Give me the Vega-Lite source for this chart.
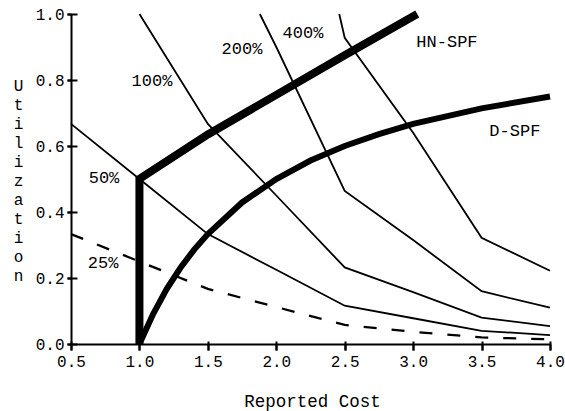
{
  "$schema": "https://vega.github.io/schema/vega-lite/v6.json",
  "width": 479,
  "height": 330,
  "autosize": {"type": "none"},
  "padding": {"left": 71, "top": 14, "right": 15, "bottom": 67},
  "background": "white",
  "config": {
    "view": {"stroke": null},
    "font": "Liberation Mono",
    "axis": {"grid": false, "domainColor": "black", "tickColor": "black", "labelColor": "black", "titleColor": "black", "labelFont": "Liberation Mono", "titleFont": "Liberation Mono", "titleFontWeight": "normal"}
  },
  "datasets": {
    "curves": [
      {"s": "25%", "x": 0.5, "y": 0.333, "i": 0},
      {"s": "25%", "x": 1.0, "y": 0.25, "i": 1},
      {"s": "25%", "x": 1.5, "y": 0.167, "i": 2},
      {"s": "25%", "x": 2.0, "y": 0.112, "i": 3},
      {"s": "25%", "x": 2.5, "y": 0.058, "i": 4},
      {"s": "25%", "x": 3.0, "y": 0.037, "i": 5},
      {"s": "25%", "x": 3.5, "y": 0.02, "i": 6},
      {"s": "25%", "x": 4.0, "y": 0.014, "i": 7},
      {"s": "50%", "x": 0.5, "y": 0.667, "i": 0},
      {"s": "50%", "x": 1.0, "y": 0.5, "i": 1},
      {"s": "50%", "x": 1.5, "y": 0.333, "i": 2},
      {"s": "50%", "x": 2.0, "y": 0.225, "i": 3},
      {"s": "50%", "x": 2.5, "y": 0.116, "i": 4},
      {"s": "50%", "x": 3.0, "y": 0.078, "i": 5},
      {"s": "50%", "x": 3.5, "y": 0.04, "i": 6},
      {"s": "50%", "x": 4.0, "y": 0.027, "i": 7},
      {"s": "100%", "x": 1.0, "y": 1.0, "i": 0},
      {"s": "100%", "x": 1.5, "y": 0.667, "i": 1},
      {"s": "100%", "x": 2.0, "y": 0.45, "i": 2},
      {"s": "100%", "x": 2.5, "y": 0.232, "i": 3},
      {"s": "100%", "x": 3.0, "y": 0.157, "i": 4},
      {"s": "100%", "x": 3.5, "y": 0.08, "i": 5},
      {"s": "100%", "x": 4.0, "y": 0.054, "i": 6},
      {"s": "200%", "x": 1.88, "y": 1.0, "i": 0},
      {"s": "200%", "x": 2.0, "y": 0.9, "i": 1},
      {"s": "200%", "x": 2.5, "y": 0.464, "i": 2},
      {"s": "200%", "x": 3.0, "y": 0.315, "i": 3},
      {"s": "200%", "x": 3.5, "y": 0.16, "i": 4},
      {"s": "200%", "x": 4.0, "y": 0.11, "i": 5},
      {"s": "400%", "x": 2.46, "y": 1.0, "i": 0},
      {"s": "400%", "x": 2.5, "y": 0.928, "i": 1},
      {"s": "400%", "x": 3.0, "y": 0.64, "i": 2},
      {"s": "400%", "x": 3.5, "y": 0.322, "i": 3},
      {"s": "400%", "x": 4.0, "y": 0.222, "i": 4},
      {"s": "HN-SPF", "x": 1.0, "y": 0.0, "i": 0},
      {"s": "HN-SPF", "x": 1.0, "y": 0.5, "i": 1},
      {"s": "HN-SPF", "x": 1.5, "y": 0.635, "i": 2},
      {"s": "HN-SPF", "x": 2.0, "y": 0.755, "i": 3},
      {"s": "HN-SPF", "x": 2.5, "y": 0.875, "i": 4},
      {"s": "HN-SPF", "x": 3.03, "y": 1.0, "i": 5},
      {"s": "D-SPF", "x": 1.0, "y": 0.0, "i": 0},
      {"s": "D-SPF", "x": 1.1, "y": 0.091, "i": 1},
      {"s": "D-SPF", "x": 1.2, "y": 0.167, "i": 2},
      {"s": "D-SPF", "x": 1.3, "y": 0.231, "i": 3},
      {"s": "D-SPF", "x": 1.4, "y": 0.286, "i": 4},
      {"s": "D-SPF", "x": 1.5, "y": 0.333, "i": 5},
      {"s": "D-SPF", "x": 1.75, "y": 0.429, "i": 6},
      {"s": "D-SPF", "x": 2.0, "y": 0.5, "i": 7},
      {"s": "D-SPF", "x": 2.25, "y": 0.556, "i": 8},
      {"s": "D-SPF", "x": 2.5, "y": 0.6, "i": 9},
      {"s": "D-SPF", "x": 2.75, "y": 0.636, "i": 10},
      {"s": "D-SPF", "x": 3.0, "y": 0.667, "i": 11},
      {"s": "D-SPF", "x": 3.5, "y": 0.714, "i": 12},
      {"s": "D-SPF", "x": 4.0, "y": 0.75, "i": 13}
    ],
    "labels": [
      {"t": "25%", "x": 0.734, "y": 0.245},
      {"t": "50%", "x": 0.741, "y": 0.503},
      {"t": "100%", "x": 1.092, "y": 0.797},
      {"t": "200%", "x": 1.749, "y": 0.894},
      {"t": "400%", "x": 2.195, "y": 0.942},
      {"t": "HN-SPF", "x": 3.247, "y": 0.915},
      {"t": "D-SPF", "x": 3.743, "y": 0.645}
    ]
  },
  "layer": [
    {
      "data": {"name": "curves"},
      "transform": [{"filter": "datum.s == '50%' || datum.s == '100%' || datum.s == '200%' || datum.s == '400%'"}],
      "mark": {"type": "line", "color": "black", "strokeWidth": 1.8},
      "encoding": {
        "x": {"field": "x", "type": "quantitative", "scale": {"domain": [0.5, 4.0], "nice": false, "zero": false},
          "axis": {"orient": "bottom", "values": [0.5, 1.0, 1.5, 2.0, 2.5, 3.0, 3.5, 4.0], "format": ".1f", "tickSize": 6, "tickWidth": 2, "domainWidth": 2, "labelFontSize": 16, "labelBaseline": "alphabetic", "labelPadding": 16, "labelFlush": false, "labelOverlap": false, "title": "Reported Cost", "titleFontSize": 17.5, "titleBaseline": "alphabetic", "titleY": 62, "titleX": 241}},
        "y": {"field": "y", "type": "quantitative", "scale": {"domain": [0, 1], "nice": false},
          "axis": {"orient": "left", "values": [0, 0.2, 0.4, 0.6, 0.8, 1.0], "format": ".1f", "tickSize": 4, "tickWidth": 2, "domainWidth": 2, "labelFontSize": 16, "labelBaseline": "middle", "labelPadding": 3, "labelFlush": false, "labelOverlap": false,
            "title": ["U", "t", "i", "l", "i", "z", "a", "t", "i", "o", "n"], "titleAngle": 0, "titleX": -53, "titleY": 71, "titleAlign": "center", "titleBaseline": "middle", "titleLineHeight": 19, "titleFontSize": 16}},
        "detail": {"field": "s"},
        "order": {"field": "i"}
      }
    },
    {
      "data": {"name": "curves"},
      "transform": [{"filter": "datum.s == '25%'"}],
      "mark": {"type": "line", "color": "black", "strokeWidth": 2.3, "strokeDash": [13, 15]},
      "encoding": {
        "x": {"field": "x", "type": "quantitative", "scale": {"domain": [0.5, 4.0], "nice": false, "zero": false}, "axis": null},
        "y": {"field": "y", "type": "quantitative", "scale": {"domain": [0, 1], "nice": false}, "axis": null},
        "order": {"field": "i"}
      }
    },
    {
      "data": {"name": "curves"},
      "transform": [{"filter": "datum.s == 'HN-SPF'"}],
      "mark": {"type": "line", "color": "black", "strokeWidth": 8, "strokeJoin": "miter"},
      "encoding": {
        "x": {"field": "x", "type": "quantitative", "scale": {"domain": [0.5, 4.0], "nice": false, "zero": false}, "axis": null},
        "y": {"field": "y", "type": "quantitative", "scale": {"domain": [0, 1], "nice": false}, "axis": null},
        "order": {"field": "i"}
      }
    },
    {
      "data": {"name": "curves"},
      "transform": [{"filter": "datum.s == 'D-SPF'"}],
      "mark": {"type": "line", "color": "black", "strokeWidth": 6},
      "encoding": {
        "x": {"field": "x", "type": "quantitative", "scale": {"domain": [0.5, 4.0], "nice": false, "zero": false}, "axis": null},
        "y": {"field": "y", "type": "quantitative", "scale": {"domain": [0, 1], "nice": false}, "axis": null},
        "order": {"field": "i"}
      }
    },
    {
      "data": {"name": "labels"},
      "mark": {"type": "text", "color": "black", "font": "Liberation Mono", "fontSize": 17, "align": "center", "baseline": "middle"},
      "encoding": {
        "x": {"field": "x", "type": "quantitative", "scale": {"domain": [0.5, 4.0], "nice": false, "zero": false},
          "axis": {"orient": "bottom", "offset": -3, "values": [0.5, 1.0, 1.5, 2.0, 2.5, 3.0, 3.5, 4.0], "tickSize": 9, "tickWidth": 2, "domain": false, "labels": false, "title": null}},
        "y": {"field": "y", "type": "quantitative", "scale": {"domain": [0, 1], "nice": false},
          "axis": {"orient": "left", "offset": -6, "values": [0, 0.2, 0.4, 0.6, 0.8, 1.0], "tickSize": 10, "tickWidth": 2, "domain": false, "labels": false, "title": null}},
        "text": {"field": "t"}
      }
    }
  ],
  "resolve": {"axis": {"x": "independent", "y": "independent"}}
}
